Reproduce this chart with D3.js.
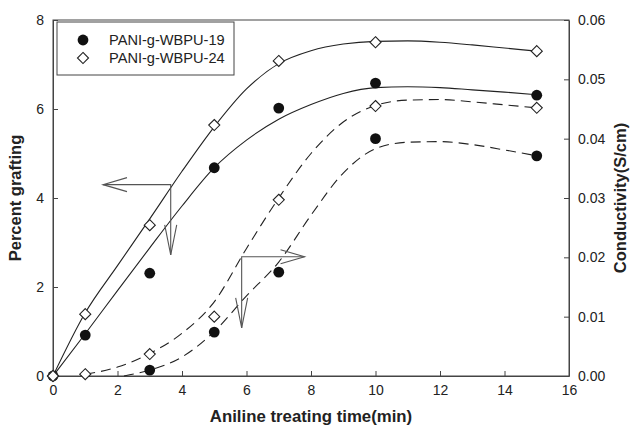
<!DOCTYPE html>
<html>
<head>
<meta charset="utf-8">
<script src="https://cdn.jsdelivr.net/npm/d3@7"></script>
<style>
  html, body { margin: 0; padding: 0; background: #fff; }
  svg { display: block; font-family: "Liberation Sans", Arial, sans-serif; }
</style>
</head>
<body>
<svg id="chart" width="633" height="431"></svg>
<script>
// ---------- data ----------
const seriesNames = ["PANI-g-WBPU-19", "PANI-g-WBPU-24"];
const timeX = [0, 1, 3, 5, 7, 10, 15];
// Percent grafting (left axis)
const grafting19 = [0, 0.92, 2.31, 4.68, 6.02, 6.58, 6.31];
const grafting24 = [0, 1.39, 3.39, 5.64, 7.08, 7.50, 7.30];
// Conductivity (right axis), S/cm
const condX19 = [3, 5, 7, 10, 15];
const cond19 = [0.0010, 0.0074, 0.0175, 0.0400, 0.0371];
const condX24 = [0, 1, 3, 5, 7, 10, 15];
const cond24 = [0, 0.0003, 0.0037, 0.0100, 0.0297, 0.0455, 0.0452];

// fitted curves
const fitX = [0, 1, 2, 3, 4, 5, 6, 7, 8, 9, 10, 11, 12, 13, 14, 15];
const fitGraft19 = [0, 0.95, 1.92, 2.88, 3.82, 4.68, 5.30, 5.77, 6.10, 6.35, 6.48, 6.50, 6.48, 6.43, 6.38, 6.32];
const fitGraft24 = [0, 1.42, 2.48, 3.53, 4.60, 5.60, 6.45, 7.02, 7.31, 7.46, 7.52, 7.53, 7.50, 7.44, 7.37, 7.30];
const fitCondX19 = [2.2, 3, 4, 5, 6, 7, 8, 9, 10, 11, 12, 13, 14, 15];
const fitCond19 = [0, 0.0010, 0.0032, 0.0075, 0.0135, 0.0192, 0.0271, 0.0342, 0.0383, 0.0394, 0.0395, 0.0390, 0.0381, 0.0371];
const fitCondX24 = [1, 2, 3, 4, 5, 6, 7, 8, 9, 10, 11, 12, 13, 14, 15];
const fitCond24 = [0.0003, 0.0015, 0.0038, 0.0072, 0.0125, 0.0215, 0.0300, 0.0375, 0.0428, 0.0456, 0.0465, 0.0466, 0.0462, 0.0457, 0.0452];

const xTicks = [0, 2, 4, 6, 8, 10, 12, 14, 16];
const yLeftTicks = [0, 2, 4, 6, 8];
const yRightTicks = [0, 0.01, 0.02, 0.03, 0.04, 0.05, 0.06];

// annotation arrows (data units): corner, horizontal tip x, vertical tip y
const arrowGraft = { cx: 3.65, cy: 4.30, hx: 1.55, vy: 2.72 };   // left axis
const arrowCond = { cx: 5.85, cy: 0.0201, hx: 7.8, vy: 0.0081 }; // right axis

const labelX = "Aniline treating time(min)";
const labelYL = "Percent grafting";
const labelYR = "Conductivity(S/cm)";

// ---------- layout ----------
const svg = d3.select("#chart");
const L = 53, R = 569, T = 20, B = 376;
const x = d3.scaleLinear().domain([0, 16]).range([L, R]);
const yL = d3.scaleLinear().domain([0, 8]).range([B, T]);
const yR = d3.scaleLinear().domain([0, 0.06]).range([B, T]);

const axisColor = "#444";
const ink = "#222";

// frame
svg.append("rect").attr("x", L).attr("y", T).attr("width", R - L).attr("height", B - T)
  .attr("fill", "none").attr("stroke", axisColor).attr("stroke-width", 1);

function styleAxis(g) {
  g.select(".domain").attr("stroke", axisColor);
  g.selectAll(".tick line").attr("stroke", axisColor);
  g.selectAll(".tick text").attr("fill", ink).style("font-size", "14px")
    .style("font-family", "'Liberation Sans', Arial, sans-serif");
}

svg.append("g").attr("transform", `translate(0,${B})`)
  .call(d3.axisBottom(x).tickValues(xTicks).tickFormat(d3.format("d")).tickSizeInner(-5).tickSizeOuter(0).tickPadding(9))
  .call(styleAxis);
svg.append("g").attr("transform", `translate(${L},0)`)
  .call(d3.axisLeft(yL).tickValues(yLeftTicks).tickFormat(d3.format("d")).tickSizeInner(-5).tickSizeOuter(0).tickPadding(9))
  .call(styleAxis);
svg.append("g").attr("transform", `translate(${R},0)`)
  .call(d3.axisRight(yR).tickValues(yRightTicks).tickFormat(d3.format(".2f")).tickSizeInner(-5).tickSizeOuter(0).tickPadding(9))
  .call(styleAxis);

// axis titles
svg.append("text").attr("x", (L + R) / 2).attr("y", 422).attr("text-anchor", "middle")
  .attr("fill", ink).style("font-size", "16.8px").style("font-weight", "bold").text(labelX);
svg.append("text").attr("transform", `translate(21,${(T + B) / 2}) rotate(-90)`).attr("text-anchor", "middle")
  .attr("fill", ink).style("font-size", "16.5px").style("font-weight", "bold").text(labelYL);
svg.append("text").attr("transform", `translate(626,${(T + B) / 2}) rotate(-90)`).attr("text-anchor", "middle")
  .attr("fill", ink).style("font-size", "16.5px").style("font-weight", "bold").text(labelYR);

// ---------- curves ----------
const plot = svg.append("g");
function curve(xs, ys, yScale, dashed) {
  const line = d3.line().x(d => x(d[0])).y(d => yScale(d[1])).curve(d3.curveMonotoneX);
  plot.append("path").datum(xs.map((v, i) => [v, ys[i]]))
    .attr("d", line).attr("fill", "none").attr("stroke", ink).attr("stroke-width", 1.1)
    .attr("stroke-dasharray", dashed ? "10,6" : null);
}
curve(fitX, fitGraft19, yL, false);
curve(fitX, fitGraft24, yL, false);
curve(fitCondX19, fitCond19, yR, true);
curve(fitCondX24, fitCond24, yR, true);

// ---------- arrows ----------
function arrow(a, yScale, dir) {
  const cx = x(a.cx), cy = yScale(a.cy), hx = x(a.hx), vy = yScale(a.vy);
  const g = plot.append("g").attr("stroke", "#555").attr("fill", "none").attr("stroke-width", 1.1);
  g.append("path").attr("d", `M${hx},${cy}H${cx}V${vy}`);
  const s = dir < 0 ? 1 : -1; // horizontal head direction
  g.append("path").attr("d", `M${hx + s * 24},${cy - 7}L${hx},${cy}L${hx + s * 24},${cy + 7}`);
  g.append("path").attr("d", `M${cx - 6},${vy - 30}L${cx},${vy}L${cx + 6},${vy - 30}`);
}
arrow(arrowGraft, yL, -1);
arrow(arrowCond, yR, 1);

// ---------- markers ----------
const diamond = d3.symbol().type(d3.symbolDiamond2).size(78);
function circles(xs, ys, yScale) {
  plot.append("g").selectAll("circle").data(xs.map((v, i) => [v, ys[i]])).join("circle")
    .attr("cx", d => x(d[0])).attr("cy", d => yScale(d[1])).attr("r", 5.4).attr("fill", "#111");
}
function diamonds(xs, ys, yScale) {
  plot.append("g").selectAll("path").data(xs.map((v, i) => [v, ys[i]])).join("path")
    .attr("d", diamond).attr("transform", d => `translate(${x(d[0])},${yScale(d[1])})`)
    .attr("fill", "#fff").attr("stroke", ink).attr("stroke-width", 1.1);
}
circles(timeX, grafting19, yL);
diamonds(timeX, grafting24, yL);
circles(condX19, cond19, yR);
diamonds(condX24, cond24, yR);

// ---------- legend ----------
const lg = svg.append("g");
lg.append("rect").attr("x", 57).attr("y", 22).attr("width", 177).attr("height", 53)
  .attr("fill", "#fff").attr("stroke", axisColor).attr("stroke-width", 1);
seriesNames.forEach((name, i) => {
  const cy = 40 + i * 18;
  if (i === 0) lg.append("circle").attr("cx", 83).attr("cy", cy).attr("r", 5.4).attr("fill", "#111");
  else lg.append("path").attr("d", diamond).attr("transform", `translate(83,${cy})`)
    .attr("fill", "#fff").attr("stroke", ink).attr("stroke-width", 1.1);
  lg.append("text").attr("x", 109).attr("y", cy + 5).attr("fill", ink)
    .style("font-size", "14.6px").text(name);
});
</script>
</body>
</html>
